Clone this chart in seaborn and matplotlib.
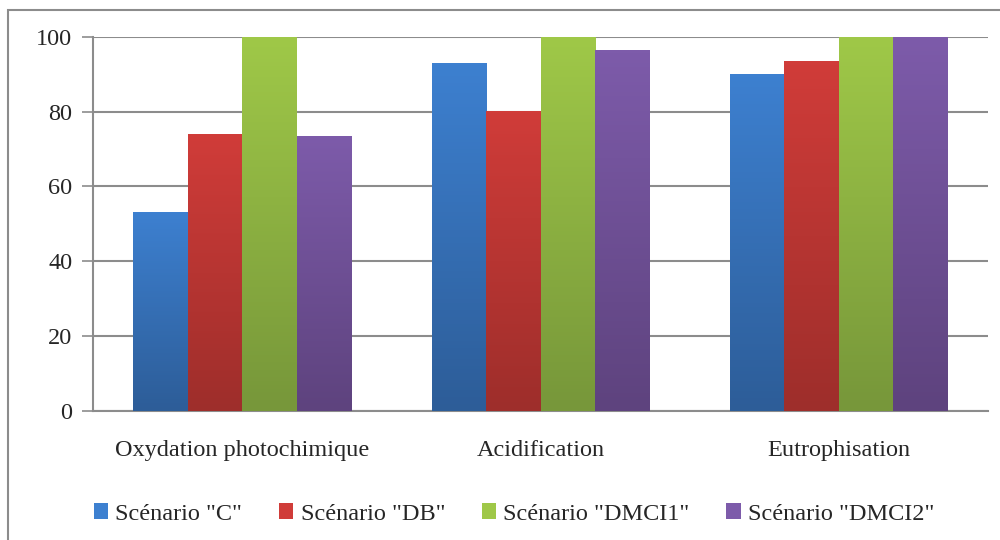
import numpy as np
import pandas as pd
import matplotlib
matplotlib.use("Agg")
import matplotlib.pyplot as plt
import matplotlib.patches as mpatches
from matplotlib.colors import LinearSegmentedColormap
import seaborn as sns

# Data
categories = ["Oxydation photochimique", "Acidification", "Eutrophisation"]
scenarios = ['Scénario "C"', 'Scénario "DB"', 'Scénario "DMCI1"', 'Scénario "DMCI2"']
vals_c = [53.2, 93.0, 90.0]
vals_db = [74.0, 80.2, 93.5]
vals_dmci1 = [100.0, 100.0, 100.0]
vals_dmci2 = [73.5, 96.5, 100.0]
y_ticks = [0, 20, 40, 60, 80, 100]

# colours: top / bottom of the gradient
tops = ["#3D80D0", "#D03C39", "#9FC848", "#7D5BAA"]
bottoms = ["#2D5D98", "#9E2E2B", "#77973A", "#5E437E"]

df = pd.DataFrame({
    "Catégorie": np.repeat(categories, 4),
    "Scénario": scenarios * 3,
    "Valeur": [v for grp in zip(vals_c, vals_db, vals_dmci1, vals_dmci2) for v in grp],
})

sns.set_style("white")
plt.rcParams["font.family"] = ["Liberation Serif", "DejaVu Serif"]

fig = plt.figure(figsize=(10, 5.4), dpi=100)
ax = fig.add_axes([0.093, 0.239, 0.895, 0.693])

sns.barplot(data=df, x="Catégorie", y="Valeur", hue="Scénario", hue_order=scenarios,
            order=categories, palette=tops, width=0.73, saturation=1,
            edgecolor="none", linewidth=0, ax=ax, legend=False, zorder=3)

# vertical gradient on each bar (lighter on top, darker at the bottom)
for container, top, bot in zip(ax.containers, tops, bottoms):
    cmap = LinearSegmentedColormap.from_list("g", [bot, top])
    for bar in container:
        x0, y0 = bar.get_x(), bar.get_y()
        w, h = bar.get_width(), bar.get_height()
        grad = np.linspace(0, 1, 100).reshape(-1, 1)
        im = ax.imshow(grad, cmap=cmap, origin="lower", aspect="auto",
                       extent=[x0, x0 + w, y0, y0 + h], zorder=4)
        im.set_clip_path(bar)

ax.set_xlim(-0.5, 2.5)
ax.set_ylim(0, 100)
ax.set_yticks(y_ticks)
ax.set_yticklabels([str(t) for t in y_ticks], fontsize=17.5)
ax.set_xticks(range(3))
ax.set_xticklabels(categories, fontsize=17.5)
ax.tick_params(axis="x", length=0, pad=21)
ax.tick_params(axis="y", length=8, width=1.2, color="#8c8c8c", direction="out", pad=7, left=True)
ax.set_xticks([-0.5, 0.5, 1.5, 2.5], minor=True)
ax.tick_params(axis="x", which="minor", length=6, width=1.2, color="#8c8c8c", direction="out")
ax.set_xlabel("")
ax.set_ylabel("")
ax.grid(axis="y", color="#8c8c8c", linewidth=1.5, zorder=0)
for side in ["top", "right"]:
    ax.spines[side].set_visible(False)
for side in ["left", "bottom"]:
    ax.spines[side].set_color("#8c8c8c")
    ax.spines[side].set_linewidth(1.5)

handles = [mpatches.Patch(facecolor=c, edgecolor="none") for c in tops]
fig.legend(handles, scenarios, loc="center", bbox_to_anchor=(0.514, 0.048), ncol=4,
           frameon=False, fontsize=17.5, handlelength=0.6, handleheight=0.6,
           handletextpad=0.3, columnspacing=1.5)

# outer chart border
fig.patches.append(mpatches.Rectangle((0.008, -0.01), 1.2, 0.992, transform=fig.transFigure,
                                      fill=False, edgecolor="#8c8c8c", linewidth=1.5))

fig.savefig("out.png", dpi=100)
